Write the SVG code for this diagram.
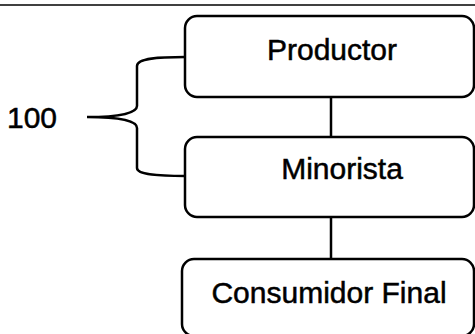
<svg xmlns="http://www.w3.org/2000/svg" width="475" height="334" viewBox="0 0 475 334">
<style>
.box{fill:#fff;stroke:#000;stroke-width:2.5}
.lbl{font-family:"Liberation Sans",Arial,sans-serif;font-size:30px;fill:#000;stroke:#000;stroke-width:0.5;text-anchor:middle}
.ln{fill:none;stroke:#000;stroke-width:2.5}
</style>
<rect width="475" height="334" fill="#fff"/>
<line x1="0" y1="5" x2="475" y2="5" stroke="#000" stroke-width="1.5"/>
<g id="connectors">
<line class="ln" x1="331" y1="97" x2="331" y2="137"/>
<line class="ln" x1="331" y1="217" x2="331" y2="259"/>
<path class="ln" d="M185 57 C160 57 137 58 137 66 L137 106 C137 113 120 117 87 117 C120 117 137 121 137 128 L137 168 C137 175 160 176 185 176"/>
</g>
<g id="productor">
<rect class="box" x="185" y="16" width="289" height="81" rx="12"/>
<text class="lbl" x="332" y="60">Productor</text>
</g>
<g id="minorista">
<rect class="box" x="185" y="137" width="289" height="80" rx="12"/>
<text class="lbl" x="342" y="179">Minorista</text>
</g>
<g id="consumidor">
<rect class="box" x="182" y="259" width="292" height="77" rx="12"/>
<text class="lbl" x="329" y="303">Consumidor Final</text>
</g>
<g id="label100">
<text class="lbl" x="7" y="128" style="text-anchor:start">100</text>
</g>
</svg>
